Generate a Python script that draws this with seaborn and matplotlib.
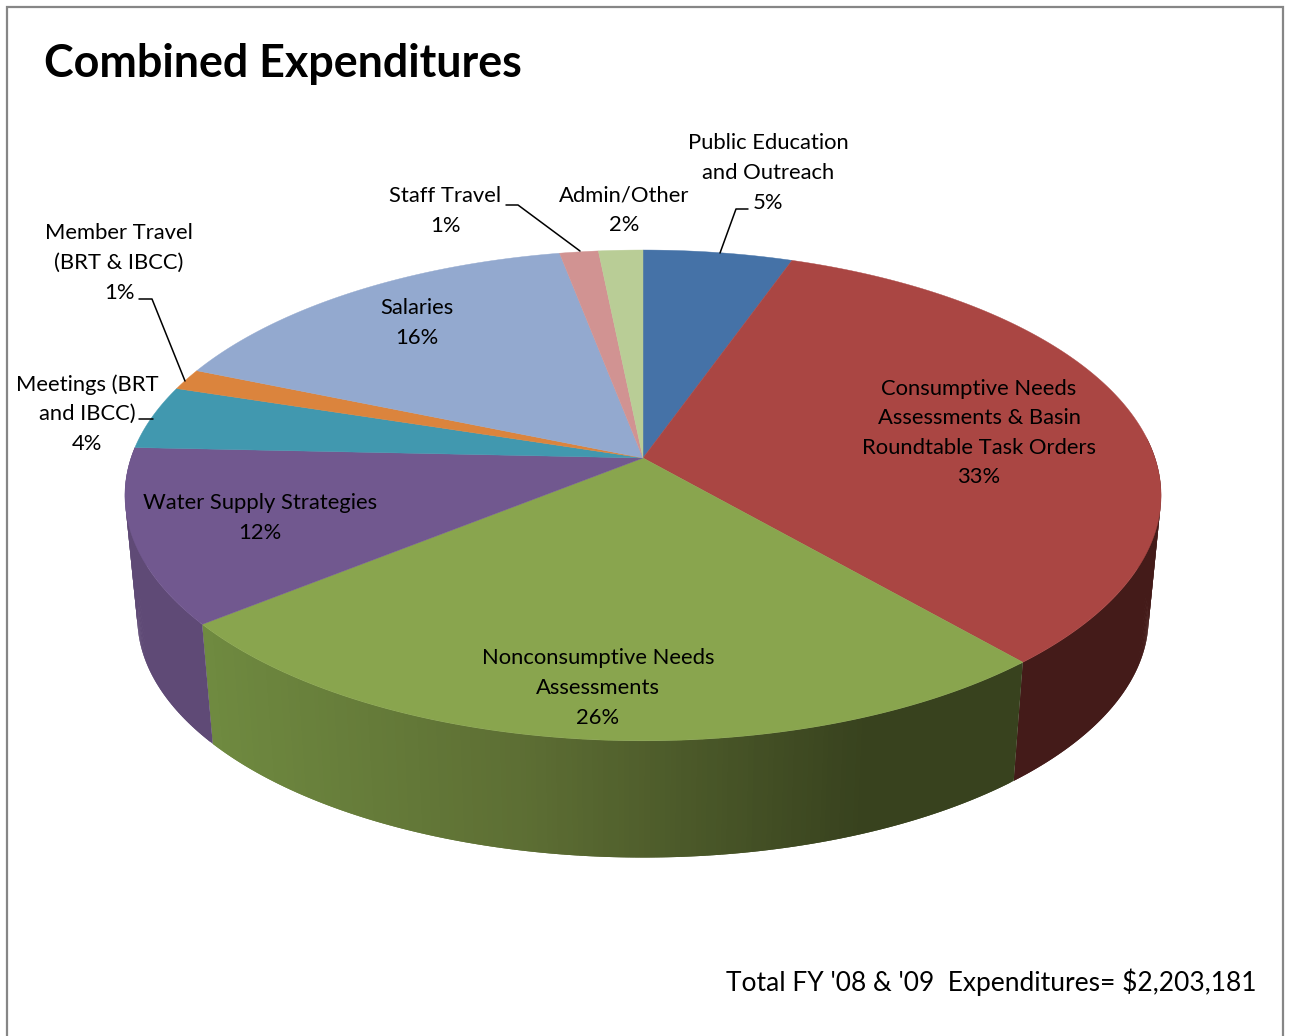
import numpy as np
import matplotlib
matplotlib.use('Agg')
import matplotlib.pyplot as plt
from matplotlib.collections import PolyCollection
from matplotlib.patches import Rectangle
import seaborn as sns

categories = ['Public Education\nand Outreach', 'Consumptive Needs\nAssessments & Basin\nRoundtable Task Orders',
              'Nonconsumptive Needs\nAssessments', 'Water Supply Strategies', 'Meetings (BRT\nand IBCC)',
              'Member Travel\n(BRT & IBCC)', 'Salaries', 'Staff Travel', 'Admin/Other']
shares = [5.4, 33.2, 25.6, 11.5, 4.2, 1.4, 15.7, 1.4, 1.6]
pct_labels = ['5%', '33%', '26%', '12%', '4%', '1%', '16%', '1%', '2%']
top_colors = ['#4572a7', '#aa4643', '#89a54e', '#71588f', '#4198af', '#db843d', '#93a9cf', '#d19392', '#b9cd96']
wall_colors = ['#2c4568', '#441b19', '#38421e', '#5f4a76', '#4198af', '#db843d', '#93a9cf', '#d19392', '#b9cd96']
title = 'Combined Expenditures'
footer = "Total FY '08 & '09  Expenditures= $2,203,181"

sns.set_theme(style='white')
plt.rcParams['font.family'] = ['Lato', 'DejaVu Sans']

# tilted disc: unit circle -> picture, far side shrinks a little
def project(ang, cy=458., scale=1.):
    u = np.sin(ang)
    v = np.cos(ang)
    w = 1 + 0.1525*v
    return 643 + scale*512*u/w, cy - scale*239.7*v/w

if __name__ == "__main__":

    fig,ax = plt.subplots(figsize=(12.89,10.36),dpi=100)
    ax.set_position([0,0,1,1])
    ax.set_xlim(0,1289)
    ax.set_ylim(1036,0)
    ax.axis('off')

    ax.add_patch(Rectangle((7,7),1276,1060,fc='white',ec='#868686',lw=1.6,zorder=0))

    edges = np.deg2rad(np.cumsum([0]+shares)*3.6)
    green_ramp = sns.blend_palette(['#6f8a40','#5c6d33','#38421e'],n_colors=101)

    # side wall, only the front half can be seen
    quads = []
    cols = []
    for i in range(1,4):
        lo = max(edges[i],np.deg2rad(85))
        hi = edges[i+1]
        aa = np.linspace(lo,hi,int(np.degrees(hi-lo)*2)+2)
        step = aa[1]-aa[0]
        for a0,a1 in zip(aa[:-1],aa[1:]):
            # strips overlap so no seams show between them
            a2 = min(a1+step,hi)
            x0,y0 = project(a0)
            x1,y1 = project(a2)
            x2,y2 = project(a2,cy=581.5,scale=.976)
            x3,y3 = project(a0,cy=581.5,scale=.976)
            quads.append([(x0,y0),(x1,y1),(x2,y2),(x3,y3)])
            if i == 2:
                f = np.clip((x3-213)/(860-213),0,1)
                cols.append(green_ramp[int(f*100)])
            else:
                cols.append(wall_colors[i])
    ax.add_collection(PolyCollection(quads,facecolors=cols,edgecolors='none',zorder=1))

    # top face
    palette = sns.color_palette(top_colors)
    for i in range(len(shares)):
        aa = np.linspace(edges[i],edges[i+1],200)
        xs,ys = project(aa)
        ax.fill(np.r_[643,xs],np.r_[458,ys],color=palette[i],lw=.3,zorder=2)

    # leader lines
    leaders = [([748,736,720],[209,209,253]),
               ([506,518,580],[205,205,251]),
               ([139,152,185],[299,299,381]),
               ([139,153],[419,419])]
    for lx,ly in leaders:
        ax.plot(lx,ly,color='black',lw=1.1,zorder=3)

    spots = [(768,173),(979,433),(598,688),(260,518),(87,414),(119,263),(417,323),(445,211),(624,210)]
    for name,pct,(tx,ty) in zip(categories,pct_labels,spots):
        ax.text(tx,ty,name+'\n'+pct,ha='center',va='center',fontsize=15.8,linespacing=1.6,color='black',zorder=4)

    ax.text(44,64,title,ha='left',va='center',fontsize=32.3,fontweight='bold',color='black')
    ax.text(1256,982,footer,ha='right',va='center',fontsize=19,color='black')

    plt.savefig('out.png',dpi=100)
    plt.close()
